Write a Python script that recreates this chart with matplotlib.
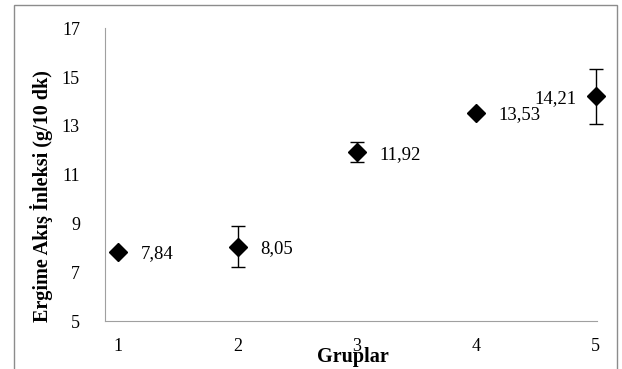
import matplotlib
matplotlib.use("Agg")
import matplotlib.pyplot as plt
from matplotlib.patches import Rectangle

groups = [1, 2, 3, 4, 5]
values = [7.84, 8.05, 11.92, 13.53, 14.21]
errors = [0.05, 0.84, 0.41, 0.05, 1.12]
value_labels = ["7,84", "8,05", "11,92", "13,53", "14,21"]
yticks = [5, 7, 9, 11, 13, 15, 17]

plt.rcParams['font.family'] = ['Liberation Serif', 'DejaVu Serif']

fig = plt.figure(figsize=(6.22, 3.69), dpi=100)
fig.patch.set_facecolor('white')
fig.patches.append(Rectangle((13.5/622, -0.05), (617-13.5)/622, 1 - 4.5/369 + 0.05,
                             transform=fig.transFigure, fill=False,
                             edgecolor='#8c8c8c', linewidth=1.0))
ax = fig.add_axes([105/622, 1-321.4/369, (597-105)/622, (321.4-28.2)/369])
eb = ax.errorbar(groups, values, yerr=errors, fmt='D', color='black', markersize=9.5,
                 ecolor='black', elinewidth=1.0, capsize=5, capthick=1.0, clip_on=False)
for part in eb.lines:
    if part is None:
        continue
    items = part if isinstance(part, (tuple, list)) else [part]
    for it in items:
        it.set_clip_on(False)
offsets = [16, 16, 16, 16, -14]
for x, y, lab, off in zip(groups, values, value_labels, offsets):
    ha = 'left' if off > 0 else 'right'
    ax.annotate(lab, (x, y), xytext=(off, 0), textcoords='offset points',
                ha=ha, va='center_baseline', fontsize=13.5)
ax.set_xlim(0.89, 5.01)
ax.set_ylim(5, 17)
ax.set_yticks(yticks)
ax.set_xticks(groups)
ax.tick_params(length=0, labelsize=13)
ax.tick_params(axis='x', pad=12)
ax.tick_params(axis='y', pad=18)
for s in ['top', 'right']:
    ax.spines[s].set_visible(False)
for s in ['left', 'bottom']:
    ax.spines[s].set_color('#a0a0a0')
ax.set_ylabel('Ergime Akış İnleksi (g/10 dk)', fontsize=14.5, fontweight='bold',
              va='center')
ax.yaxis.set_label_coords((42-105)/492, (321.4-196)/293.2)
ax.set_xlabel('Gruplar', fontsize=14.5, fontweight='bold', va='center')
ax.xaxis.set_label_coords((353-105)/492, (321.4-357)/293.2)
fig.savefig('out.png', dpi=100)
